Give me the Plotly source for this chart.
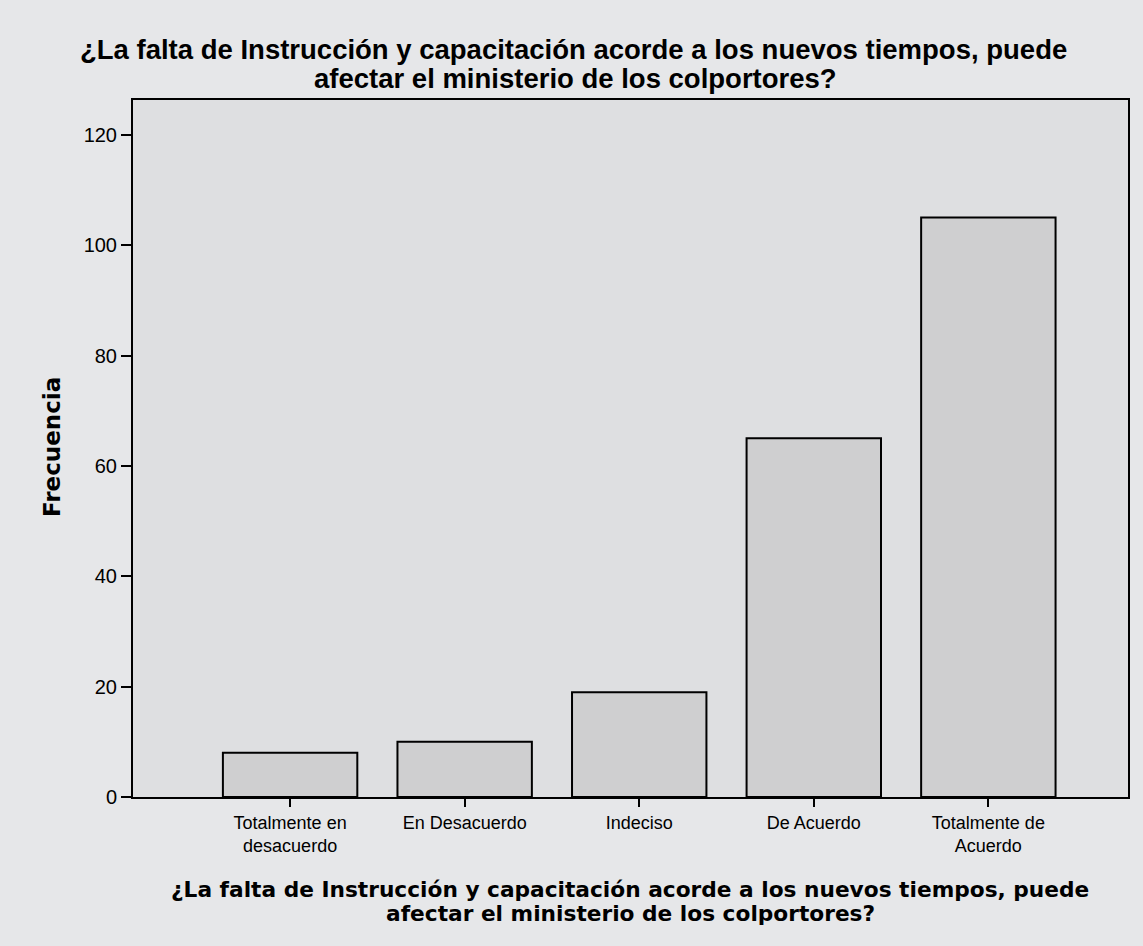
import plotly.graph_objects as go

categories = ["Totalmente en<br>desacuerdo", "En Desacuerdo", "Indeciso", "De Acuerdo", "Totalmente de<br>Acuerdo"]
frecuencia = [8, 10, 19, 65, 105]
y_ticks = [0, 20, 40, 60, 80, 100, 120]
title_line1 = "¿La falta de Instrucción y capacitación acorde a los nuevos tiempos, puede"
title_line2 = "afectar el ministerio de los colportores?"
y_title = "Frecuencia"

sans = "Liberation Sans, Arial, sans-serif"
deja = "DejaVu Sans, Verdana, sans-serif"

fig = go.Figure()
fig.add_trace(go.Bar(
    x=list(range(len(categories))),
    y=frecuencia,
    marker=dict(color="#cfcfd0", line=dict(color="black", width=2)),
    width=0.77,
))

fig.update_layout(
    width=1143, height=946,
    paper_bgcolor="#e6e7e9",
    plot_bgcolor="#dedfe1",
    margin=dict(l=133, r=15, t=100, b=149),
    showlegend=False,
    xaxis=dict(
        range=[-0.9, 4.8],
        tickmode="array",
        tickvals=list(range(len(categories))),
        ticktext=categories,
        ticks="outside", ticklen=8, tickwidth=2, tickcolor="black",
        showline=True, linecolor="black", linewidth=2, mirror=True,
        showgrid=False, zeroline=False,
        tickfont=dict(family=sans, size=18, color="black"),
    ),
    yaxis=dict(
        range=[0, 126.3],
        tickmode="array",
        tickvals=y_ticks,
        ticks="outside", ticklen=10, tickwidth=2, tickcolor="black",
        showline=True, linecolor="black", linewidth=2, mirror=True,
        showgrid=False, zeroline=False,
        tickfont=dict(family=sans, size=20, color="black"),
    ),
)

# top title (two lines)
for txt, py, px in [(title_line1, 50, 573), (title_line2, 78, 575)]:
    fig.add_annotation(
        text="<b>" + txt + "</b>", xref="paper", yref="paper",
        x=(px - 133) / 995, y=(797 - py) / 697, xanchor="center", yanchor="middle",
        showarrow=False, font=dict(family=sans, size=27.5, color="black"),
    )
# x-axis title (two lines)
for txt, py in [(title_line1, 889), (title_line2, 913)]:
    fig.add_annotation(
        text="<b>" + txt + "</b>", xref="paper", yref="paper",
        x=(630 - 133) / 995, y=(797 - py) / 697, xanchor="center", yanchor="middle",
        showarrow=False, font=dict(family=deja, size=21.7, color="black"),
    )
# y-axis title
fig.add_annotation(
    text="<b>" + y_title + "</b>", xref="paper", yref="paper",
    x=(52 - 133) / 995, y=(797 - 447) / 697, xanchor="center", yanchor="middle",
    textangle=-90, showarrow=False, font=dict(family=deja, size=23, color="black"),
)

fig.write_html("out.html", config={"displayModeBar": False})
with open("out.html", "r", encoding="utf-8") as f:
    html = f.read()
html = html.replace("<body>", "<body style=\"margin:0\">", 1)
with open("out.html", "w", encoding="utf-8") as f:
    f.write(html)
